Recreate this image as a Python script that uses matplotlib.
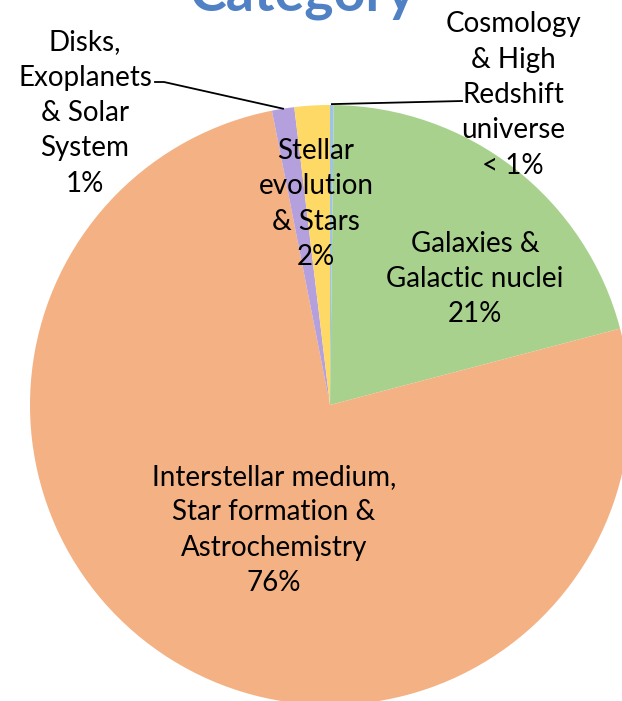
import numpy as np
import matplotlib.pyplot as plt

plt.rcParams['font.family'] = ['Lato', 'DejaVu Sans']

# slices, clockwise from 12 o'clock
categories = ['Cosmology\n& High\nRedshift\nuniverse', 'Galaxies &\nGalactic nuclei',
              'Interstellar medium,\nStar formation &\nAstrochemistry',
              'Disks,\nExoplanets\n& Solar\nSystem', 'Stellar\nevolution\n& Stars']
shares = [0.2, 20.7, 76.0, 1.2, 1.9]
pct_labels = ['< 1%', '21%', '76%', '1%', '2%']
colors = ['#9DC3E6', '#A9D18E', '#F4B183', '#B4A0DC', '#FFD966']

W, H = 622, 701
fig = plt.figure(figsize=(W / 100, H / 100), dpi=100)

# pie centre at (330, 405) px, radius 300 px
cx, cy, r = 330, 405, 300
ax = fig.add_axes([(cx - r) / W, (H - cy - r) / H, 2 * r / W, 2 * r / H])
wedges, _ = ax.pie(shares, colors=colors, startangle=90, counterclock=False,
                   radius=1, wedgeprops=dict(linewidth=0))
ax.set_xlim(-1, 1)
ax.set_ylim(-1, 1)
ax.set_aspect('equal')
ax.axis('off')
for w in wedges:
    w.set_clip_on(False)


def px(x, y):
    # pixel position -> data coords of the pie axes
    return (x - cx) / r, (cy - y) / r


def edge_point(w):
    ang = np.deg2rad((w.theta1 + w.theta2) / 2)
    return np.cos(ang), np.sin(ang)


fs = 20
# text label placements (pixel centres)
label_pos = [(513, 95), (475, 279), (274, 530), (85, 113), (316, 204)]
for cat, pct, (x, y) in zip(categories, pct_labels, label_pos):
    tx, ty = px(x, y)
    ax.text(tx, ty, cat + '\n' + pct, ha='center', va='center', fontsize=fs,
            linespacing=1.45, color='black', clip_on=False)

# leader lines
ex, ey = edge_point(wedges[0])
p1 = px(462, 101)
ax.plot([ex, p1[0]], [ey + 0.003, p1[1]], color='black', lw=1.3, clip_on=False)

ex, ey = edge_point(wedges[3])
p1 = px(155, 82)
p2 = px(164, 82)
ax.plot([p1[0], p2[0], ex], [p1[1], p2[1], ey], color='black', lw=1.3, clip_on=False)

fig.text(303 / W, (H - 11) / H, 'Category', ha='center', va='baseline',
         fontsize=40, fontweight='bold', color='#4F81C4')

fig.savefig('out.png', dpi=100)
